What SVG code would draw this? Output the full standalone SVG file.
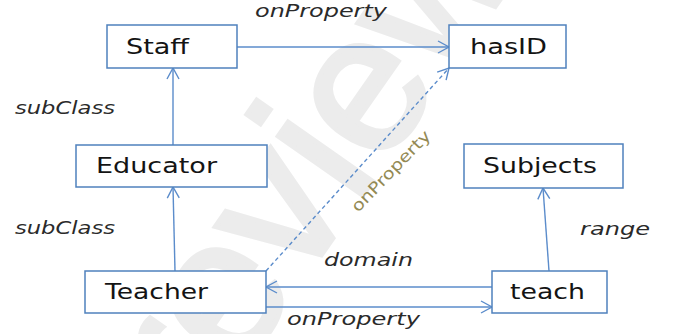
<svg xmlns="http://www.w3.org/2000/svg" width="678" height="334" viewBox="0 0 678 334">
<style>
.box{fill:#fff;stroke:#4f81bd;stroke-width:1.5}
.lbl{font-family:"DejaVu Sans",Verdana,sans-serif;font-size:21px;fill:#141414}
.edge{fill:none;stroke:#5b8ccb;stroke-width:1.4}
.dash{stroke-dasharray:4,3}
.elbl{font-family:"DejaVu Sans",Verdana,sans-serif;font-size:17px;font-style:italic;fill:#2a2a2a}
.wm{font-family:"Liberation Sans",Arial,sans-serif;font-size:195px;fill:#ececec;stroke:#ececec;stroke-width:5}
</style>
<defs>
<marker id="arr" markerUnits="userSpaceOnUse" markerWidth="14" markerHeight="14" viewBox="0 0 14 14" refX="13" refY="7" orient="auto">
<path d="M2,1 L13,7 L2,13" fill="none" stroke="#5b8ccb" stroke-width="1.4"/>
</marker>
</defs>
<rect width="678" height="334" fill="#fff"/>
<text class="wm" transform="translate(200,428) rotate(-55)">review</text>
<g id="connectors">
<line class="edge" x1="237" y1="47" x2="449" y2="47" marker-end="url(#arr)"/>
<line class="edge" x1="173" y1="145" x2="173" y2="68" marker-end="url(#arr)"/>
<line class="edge" x1="175" y1="271" x2="173" y2="187" marker-end="url(#arr)"/>
<line class="edge" x1="549" y1="271" x2="543" y2="188" marker-end="url(#arr)"/>
<line class="edge" x1="492" y1="287" x2="266" y2="287" marker-end="url(#arr)"/>
<line class="edge" x1="266" y1="307" x2="492" y2="307" marker-end="url(#arr)"/>
<line class="edge dash" x1="266" y1="271" x2="449" y2="68" marker-end="url(#arr)"/>
<text class="elbl" x="255" y="17" textLength="132" lengthAdjust="spacingAndGlyphs">onProperty</text>
<text class="elbl" x="15" y="114" textLength="100" lengthAdjust="spacingAndGlyphs">subClass</text>
<text class="elbl" x="15" y="234" textLength="100" lengthAdjust="spacingAndGlyphs">subClass</text>
<text class="elbl" x="580" y="235" textLength="70" lengthAdjust="spacingAndGlyphs">range</text>
<text class="elbl" x="324" y="266" textLength="89" lengthAdjust="spacingAndGlyphs">domain</text>
<text class="elbl" x="287" y="325" textLength="133" lengthAdjust="spacingAndGlyphs">onProperty</text>
<text font-family="DejaVu Sans,Verdana,sans-serif" font-size="16" fill="#948a54" transform="translate(358,213) rotate(-46)" textLength="106" lengthAdjust="spacingAndGlyphs">onProperty</text>
</g>
<g id="Staff"><rect class="box" x="107" y="25" width="130" height="43"/><text class="lbl" x="126" y="54" textLength="63" lengthAdjust="spacingAndGlyphs">Staff</text></g>
<g id="hasID"><rect class="box" x="449" y="25" width="117" height="43"/><text class="lbl" x="470" y="54" textLength="77" lengthAdjust="spacingAndGlyphs">hasID</text></g>
<g id="Educator"><rect class="box" x="76" y="145" width="191" height="42"/><text class="lbl" x="96" y="173" textLength="121" lengthAdjust="spacingAndGlyphs">Educator</text></g>
<g id="Subjects"><rect class="box" x="464" y="144" width="159" height="44"/><text class="lbl" x="483" y="173" textLength="114" lengthAdjust="spacingAndGlyphs">Subjects</text></g>
<g id="Teacher"><rect class="box" x="85" y="271" width="181" height="42"/><text class="lbl" x="105" y="299" textLength="103" lengthAdjust="spacingAndGlyphs">Teacher</text></g>
<g id="teach"><rect class="box" x="492" y="271" width="115" height="42"/><text class="lbl" x="510" y="299" textLength="75" lengthAdjust="spacingAndGlyphs">teach</text></g>
</svg>
